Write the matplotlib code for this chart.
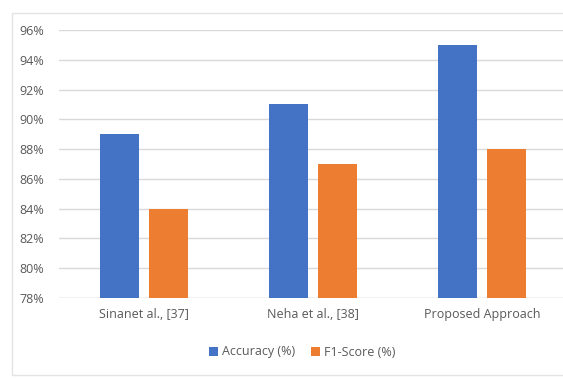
import matplotlib.pyplot as plt
from matplotlib.patches import Rectangle
import numpy as np

plt.rcParams['font.family'] = ['Open Sans', 'DejaVu Sans']

methods = ['Sinanet al., [37]', 'Neha et al., [38]', 'Proposed Approach']
accuracy = [89, 91, 95]
f1_score = [84, 87, 88]
yticks = [78, 80, 82, 84, 86, 88, 90, 92, 94, 96]

blue = '#4472C4'
orange = '#ED7D31'
grey_text = '#595959'
grid_col = '#D9D9D9'

fig = plt.figure(figsize=(5.63, 3.78), dpi=100)
ax = fig.add_axes([59 / 563, 80 / 378, 508 / 563, 268 / 378])

x = np.arange(len(methods))
w = 0.23
ax.bar(x - 0.145, accuracy, w, color=blue, label='Accuracy (%)', zorder=3)
ax.bar(x + 0.145, f1_score, w, color=orange, label='F1-Score (%)', zorder=3)

ax.set_xlim(-0.5, 2.5)
ax.set_ylim(78, 96)
ax.set_yticks(yticks)
ax.set_yticklabels([f'{t}%' for t in yticks])
ax.set_xticks(x)
ax.set_xticklabels(methods)
ax.tick_params(axis='both', length=0, colors=grey_text, labelsize=9)
ax.tick_params(axis='y', pad=11)
ax.tick_params(axis='x', pad=7)
ax.grid(axis='y', color=grid_col, linewidth=1, zorder=0)
for s in ax.spines.values():
    s.set_visible(False)
ax.axhline(78, color=grid_col, linewidth=1, zorder=1)

leg = fig.legend(loc='center', bbox_to_anchor=(302 / 563, 1 - 352 / 378), ncol=2,
                 frameon=False, fontsize=9, handlelength=0.7, handleheight=0.7,
                 handletextpad=0.3, columnspacing=1.3)
for t in leg.get_texts():
    t.set_color(grey_text)

# chart area border
fig.patches.append(Rectangle((12 / 563, 3 / 378), 560 / 563, 362 / 378,
                             transform=fig.transFigure, fill=False,
                             edgecolor='#E3E3E3', linewidth=1))

fig.savefig('out.png', dpi=100)
